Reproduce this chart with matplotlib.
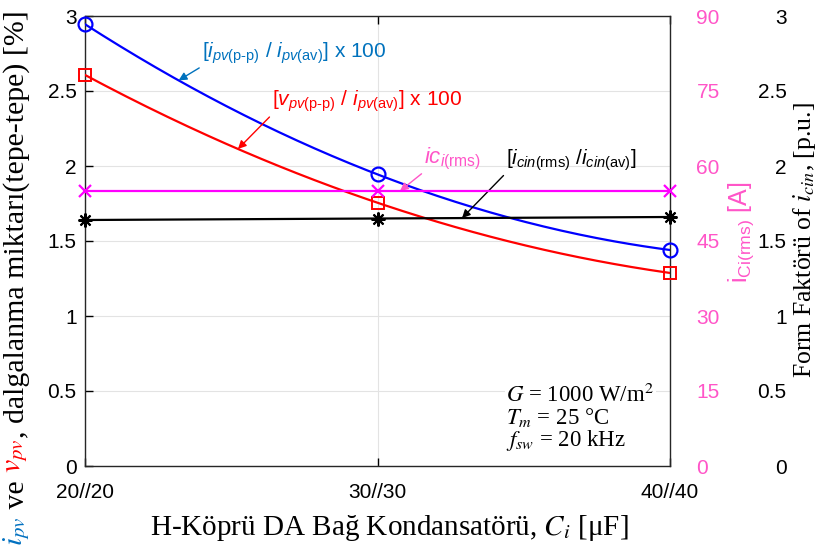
import numpy as np
import matplotlib.pyplot as plt

plt.rcParams['font.family'] = 'Liberation Sans'
plt.rcParams['mathtext.fontset'] = 'custom'
plt.rcParams['mathtext.rm'] = 'Liberation Sans'
plt.rcParams['mathtext.it'] = 'Liberation Sans:italic'
plt.rcParams['mathtext.bf'] = 'Liberation Sans:bold'

# kondansatör değerleri ve ölçülen dalgalanmalar
cap = [20, 30, 40]
cap_labels = ['20//20', '30//30', '40//40']
ipv_ripple = [2.945, 1.944, 1.44]      # [%]
vpv_ripple = [2.607, 1.755, 1.287]     # [%]
ici_rms = [55, 55, 55]                 # [A]
form_factor = [1.64, 1.65, 1.66]       # [p.u.]

left_ticks = [0, 0.5, 1, 1.5, 2, 2.5, 3]
left_ticklabels = ['0', '0.5', '1', '1.5', '2', '2.5', '3']
rms_ticks = [0, 15, 30, 45, 60, 75, 90]

W, H = 818, 551
fig = plt.figure(figsize=(W/100, H/100), dpi=100)
ax = fig.add_axes([85/W, 85/H, 585/W, 450/H])

xs = np.linspace(cap[0], cap[-1], 200)
def smooth(y):
    return np.polyval(np.polyfit(cap, y, 2), xs)

ax.plot(xs, smooth(ipv_ripple), color='#0000ff', lw=1.6, zorder=3)
ax.plot(cap, ipv_ripple, 'o', color='#0000ff', mfc='none', ms=10, mew=1.6, zorder=4, clip_on=False)
ax.plot(xs, smooth(vpv_ripple), color='#ff0000', lw=1.6, zorder=3)
ax.plot(cap, vpv_ripple, 's', color='#ff0000', mfc='none', ms=8.5, mew=1.4, zorder=4, clip_on=False)

ax.set_xlim(20, 40)
ax.set_ylim(0, 3)
ax.set_xticks(cap)
ax.set_xticklabels(cap_labels)
ax.set_yticks(left_ticks)
ax.set_yticklabels(left_ticklabels)
ax.tick_params(direction='in', length=6, width=1, labelsize=15, top=True, right=True, pad=6)
ax.tick_params(axis='x', pad=12)
ax.grid(True, color='#e3e3e3', lw=0.8)
ax.set_axisbelow(True)
for s in ax.spines.values():
    s.set_linewidth(1.0)
    s.set_color('#262626')

# akım rms ekseni
pink = '#ff55c8'
ax2 = ax.twinx()
ax2.set_ylim(0, 90)
ax2.set_yticks(rms_ticks)
ax2.plot(xs, np.polyval(np.polyfit(cap, ici_rms, 1), xs), color='#ff00ff', lw=1.6, zorder=3)
ax2.plot(cap, ici_rms, 'x', color='#ff00ff', ms=8, mew=1.6, zorder=4, clip_on=False)
ax2.tick_params(axis='y', length=0, pad=19, labelsize=15, labelcolor=pink)
for s in ax2.spines.values():
    s.set_visible(False)

# form faktörü ekseni
ax3 = ax.twinx()
ax3.set_ylim(0, 3)
ax3.set_yticks(left_ticks)
ax3.set_yticklabels(left_ticklabels)
ax3.plot(xs, smooth(form_factor), color='black', lw=1.6, zorder=3)
ax3.plot(cap, form_factor, marker=(8, 2, 0), ls='none', color='black', ms=10, mew=1.5,
         zorder=4, clip_on=False)
ax3.tick_params(axis='y', length=0, pad=84, labelsize=15)
for lbl in ax3.get_yticklabels():
    lbl.set_horizontalalignment('right')
for s in ax3.spines.values():
    s.set_visible(False)

# etiketler
ax.set_xlabel(r'H-Köprü DA Bağ Kondansatörü, $C_i$ [μF]', family='Liberation Serif',
              fontsize=21, math_fontfamily='stix', labelpad=2)
ax.xaxis.set_label_coords(0.52, -0.105)

fig.text(741/W, 1 - 232/H, r'$\mathrm{i_{Ci(rms)}}$ [A]', color=pink, fontsize=18,
         rotation=90, ha='center', va='center')
fig.text(804/W, 1 - 240/H, r'Form Faktörü of $i_{cin}$, [p.u.]', family='Liberation Serif',
         math_fontfamily='stix', fontsize=18.5, rotation=90, ha='center', va='center')

# çok renkli sol eksen etiketi
parts = [(r'$i_{pv}$', '#0070c0'), (' ve ', 'black'), (r'$v_{pv}$', '#ff0000'),
         (', dalgalanma miktarı(tepe-tepe) [%]', 'black')]
renderer = fig.canvas.get_renderer()
texts = []
for txt, col in parts:
    t = fig.text(0, 0, txt, color=col, family='Liberation Serif', math_fontfamily='stix',
                 fontsize=21.5, rotation=90, ha='center', va='bottom')
    texts.append(t)
heights = [t.get_window_extent(renderer).height for t in texts]
x_lab = 17
y = H - 278 - sum(heights) / 2
for t, h in zip(texts, heights):
    t.set_position((x_lab/W, y/H))
    y += h

# açıklamalar
arrow = dict(arrowstyle='-|>', lw=1.0, mutation_scale=12, shrinkA=0, shrinkB=0)
ax.annotate(r'[$i_{pv\mathrm{(p\text{-}p)}}$ / $i_{pv\mathrm{(av)}}$] x 100',
            xy=(23.2, np.polyval(np.polyfit(cap, ipv_ripple, 2), 23.2)), xytext=(24.0, 2.75),
            color='#0072bd', fontsize=15, va='center', ha='left',
            arrowprops=dict(arrow, color='#0072bd', relpos=(0, 0)))
ax.annotate(r'[$v_{pv\mathrm{(p\text{-}p)}}$ / $i_{pv\mathrm{(av)}}$] x 100',
            xy=(25.23, np.polyval(np.polyfit(cap, vpv_ripple, 2), 25.23)), xytext=(26.4, 2.43),
            color='#ff0000', fontsize=15, va='center', ha='left',
            arrowprops=dict(arrow, color='#ff0000', relpos=(0, 0)))
ax.annotate(r'$ic_{i\mathrm{(rms)}}$',
            xy=(30.77, ici_rms[0] / 30), xytext=(31.6, 2.05),
            color=pink, fontsize=16, va='center', ha='left',
            arrowprops=dict(arrow, color=pink, relpos=(0, 0)))
ax.annotate(r'[$i_{cin\mathrm{(rms)}}$ /$i_{cin\mathrm{(av)}}$]',
            xy=(32.89, np.polyval(np.polyfit(cap, form_factor, 2), 32.89)), xytext=(34.4, 2.04),
            color='black', fontsize=15, va='center', ha='left',
            arrowprops=dict(arrow, color='black', relpos=(0, 0)))

ax.text(34.4, 0.32, '$G$ = 1000 W/m$^2$\n$T_m$ = 25 °C\n$f_{sw}$ = 20 kHz',
        family='Liberation Serif', math_fontfamily='stix', fontsize=16.5, va='center',
        ha='left', linespacing=0.95, zorder=5,
        bbox=dict(facecolor='white', edgecolor='none', pad=1))

fig.savefig('out.png', dpi=100)
